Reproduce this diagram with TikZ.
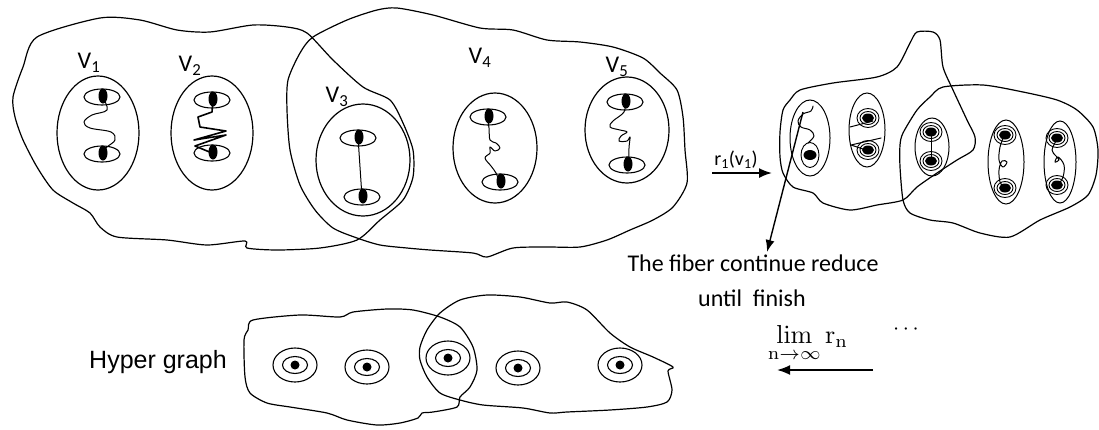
\documentclass[tikz,border=0pt]{standalone}
\usepackage[no-math]{fontspec}
\usepackage{graphicx}
\setmainfont{Carlito}
\newfontfamily\arialfont{Liberation Sans}
\usetikzlibrary{arrows.meta}

\tikzset{
  blob/.style={draw, line width=1.2pt, line join=round},
  vset/.style={draw, line width=1.2pt},
  fiber/.style={draw, line width=1pt, line cap=round, line join=round},
  lbl/.style={inner sep=0pt, font=\fontsize{24}{28}\selectfont},
  arr/.style={line width=1.8pt, -{Latex[length=13pt,width=10pt]}},
  eye/.pic={
    \draw[line width=1.1pt] (0,0) ellipse [x radius=18, y radius=8];
    \fill (1,-1) ellipse [x radius=4.5, y radius=7.5];
  },
  ring/.pic={
    \draw[line width=0.9pt] (0,0) ellipse [x radius=11, y radius=9.5];
    \draw[line width=0.9pt] (0,0) ellipse [x radius=8, y radius=6.5];
    \fill (0,0) ellipse [x radius=6, y radius=4.5];
  },
  target/.pic={
    \draw[line width=1.1pt] (0,0) ellipse [x radius=22, y radius=17];
    \draw[line width=1.1pt] (0,0) ellipse [x radius=12.5, y radius=8.5];
    \fill (0,0) circle [radius=4.5];
  }
}

\begin{document}
\begin{tikzpicture}[x=1pt, y=-1pt]
\useasboundingbox (0,0) rectangle (1099,429);

% ---------- first hypergraph: two hyperedges over V1..V5 ----------
\draw[blob] plot[smooth cycle, tension=0.45] coordinates {
  (37,37) (100,18) (140,20) (177,30) (210,32) (253,25) (287,27) (307,33)
  (333,60) (363,87) (390,100) (403,123) (413,150) (413,177) (403,200)
  (380,220) (357,240) (320,248) (277,250) (247,248) (245,241) (207,245)
  (167,240) (117,237) (100,227) (90,213) (73,203) (53,190) (37,167)
  (23,140) (15,117) (13,97) (23,67)};
\draw[blob] plot[smooth cycle, tension=0.45] coordinates {
  (300,53) (313,37) (347,20) (377,10) (397,8) (433,15) (480,28) (513,30)
  (547,40) (580,42) (613,47) (643,58) (660,73) (677,90) (683,117)
  (685,150) (687,183) (673,207) (653,220) (630,230) (607,240) (580,247)
  (547,247) (513,248) (487,257) (473,253) (430,250) (407,248) (380,245)
  (357,238) (333,228) (315,210) (300,185) (290,150) (287,110) (288,80)};

% vertex sets
\draw[vset] (98,133) ellipse [x radius=41, y radius=57];
\draw[vset] (212,133) ellipse [x radius=41, y radius=57];
\draw[vset] (363,160) ellipse [x radius=47, y radius=56];
\draw[vset] (495,148) ellipse [x radius=42, y radius=55];
\draw[vset] (627,130) ellipse [x radius=42, y radius=53];

% fibers inside the vertex sets
\draw[fiber] plot[smooth, tension=0.6] coordinates {
  (103,98) (107,110) (92,115) (84,122) (90,128) (111,132) (115,140)
  (107,147) (102,153)};
\draw[fiber, line width=1.6pt] (213,100) -- (212,112) -- (198,117) -- (200,127)
  -- (226,131) -- (194,140) -- (226,135) -- (195,146) -- (212,153);
\draw[fiber] (358,137) -- (362,197);
\draw[fiber] plot[smooth, tension=0.6] coordinates {
  (487,116) (489,128) (490,140) (496,143) (500,148) (495,151) (490,147)
  (490,153) (485,158) (491,166) (496,173) (499,181)};
\draw[fiber] plot[smooth, tension=0.6] coordinates {
  (625,101) (624,112) (613,121) (610,127) (620,130) (627,132) (621,136)
  (619,141) (627,141) (630,137) (629,148) (629,163)};

\pic at (102,97) {eye};
\pic at (102,154) {eye};
\pic at (212,100) {eye};
\pic at (212,153) {eye};
\pic at (358,138) {eye};
\pic at (362,197) {eye};
\pic at (488,117) {eye};
\pic at (500,182) {eye};
\pic at (625,102) {eye};
\pic at (627,165) {eye};

\node[lbl] (v1) at (89,63) {V\textsubscript{1}};
\node[lbl] (v2) at (190,66) {V\textsubscript{2}};
\node[lbl] (v3) at (337,97) {V\textsubscript{3}};
\node[lbl] (v4) at (480,58) {V\textsubscript{4}};
\node[lbl] (v5) at (617,67) {V\textsubscript{5}};

% ---------- reduction step ----------
\coordinate (r1s) at (712,173);
\coordinate (r1e) at (772,173);
\draw[arr] (r1s) -- (r1e);
\node[inner sep=0pt, font=\fontsize{20}{24}\selectfont] (r1) at (736,160)
  {r\textsubscript{1}(v\textsubscript{1})};

% ---------- reduced hypergraph ----------
\draw[blob] plot[smooth cycle, tension=0.45] coordinates {
  (780,132) (783,110) (790,100) (800,90) (833,83) (877,77) (897,67)
  (910,43) (917,32) (933,32) (940,40) (943,67) (953,90) (967,120)
  (975,137) (973,150) (957,160) (937,173) (917,187) (903,200) (877,205)
  (850,210) (823,203) (813,193) (793,187) (783,173) (780,157)};
\draw[blob] plot[smooth cycle, tension=0.45] coordinates {
  (903,133) (917,110) (930,97) (943,87) (983,85) (1023,92) (1057,100)
  (1077,110) (1093,127) (1098,150) (1096,175) (1088,195) (1070,207)
  (1040,220) (1010,237) (980,233) (953,223) (930,220) (910,213)
  (903,200) (900,167) (900,145)};

\draw[vset, line width=1pt] (810,138) ellipse [x radius=20, y radius=38];
\draw[vset, line width=1pt] (867,130) ellipse [x radius=18, y radius=37];
\draw[vset, line width=1pt] (932,147) ellipse [x radius=17, y radius=29];
\draw[vset, line width=1pt] (1006,162) ellipse [x radius=18, y radius=42];
\draw[vset, line width=1pt] (1060,162) ellipse [x radius=16, y radius=41];

% remaining fibers
\draw[fiber] plot[smooth, tension=0.6] coordinates {
  (808,143) (814,136) (810,130) (801,127) (798,121) (803,114) (811,111)
  (813,106)};
\draw[fiber] (850,127) -- (873,121);
\draw[fiber] (881,138) -- (851,145) -- (866,150);
\draw[fiber] (931,132) -- (931,161);
\draw[fiber] plot[smooth, tension=0.6] coordinates {
  (1004,136) (1000,147) (999,160) (1003,167) (1007,162) (1002,161)
  (999,170) (1000,182) (1004,188)};
\draw[fiber] plot[smooth, tension=0.6] coordinates {
  (1057,139) (1052,150) (1056,156) (1059,160) (1055,162) (1058,157)
  (1064,165) (1063,177) (1058,185)};

\draw[line width=0.9pt] (810,155) ellipse [x radius=9, y radius=12.5];
\fill (810,155) ellipse [x radius=6.5, y radius=5];
\pic at (868,118) {ring};
\pic at (868,150) {ring};
\pic at (931,132) {ring};
\pic at (931,161) {ring};
\pic at (1005,135) {ring};
\pic at (1005,188) {ring};
\pic at (1057,138) {ring};
\pic at (1057,185) {ring};

% note on the fiber
\coordinate (fs) at (803,112);
\coordinate (fe) at (767,252);
\draw[line width=1.4pt, -{Latex[length=12pt,width=9pt]}] (fs) -- (fe);
\node[lbl] (note1) at (753,263) {The fiber continue reduce};
\node[lbl] (note2) at (752,298) {until\ \ finish};

% ---------- limit ----------
\node[inner sep=0pt] (lim) at (808,344)
  {\scalebox{2.6}{$\lim\limits_{\mathrm{n}\to\infty} \mathrm{r}_{\mathrm{n}}$}};
\node[inner sep=0pt] (dots) at (906,330) {\scalebox{2.2}{$\cdots$}};
\coordinate (ls) at (873,370);
\coordinate (le) at (777,370);
\draw[arr] (ls) -- (le);

% ---------- final hypergraph ----------
\draw[blob] plot[smooth cycle, tension=0.45] coordinates {
  (253,320) (300,315) (340,317) (353,312) (387,309) (413,310) (440,317)
  (460,327) (473,347) (477,370) (470,387) (460,397) (457,407) (433,412)
  (422,413) (418,418) (400,423) (377,425) (347,420) (327,413) (290,407)
  (267,403) (250,393) (245,377) (244,340) (248,330)};
\draw[blob] plot[smooth cycle, tension=0.45] coordinates {
  (420,347) (427,330) (440,313) (460,300) (487,295) (520,297) (550,303)
  (567,302) (587,310) (610,333) (630,347) (653,357) (673,367) (668,371)
  (672,390) (667,402) (647,407) (610,410) (567,412) (550,413) (523,408)
  (483,405) (460,400) (440,393) (427,377) (420,360)};

\pic at (295,365) {target};
\pic at (367,367) {target};
\pic at (448,358) {target};
\pic at (518,368) {target};
\pic at (620,365) {target};

\node[inner sep=0pt, font=\arialfont\fontsize{25}{30}\selectfont] (hg) at (158,362) {Hyper graph};
\end{tikzpicture}
\end{document}
